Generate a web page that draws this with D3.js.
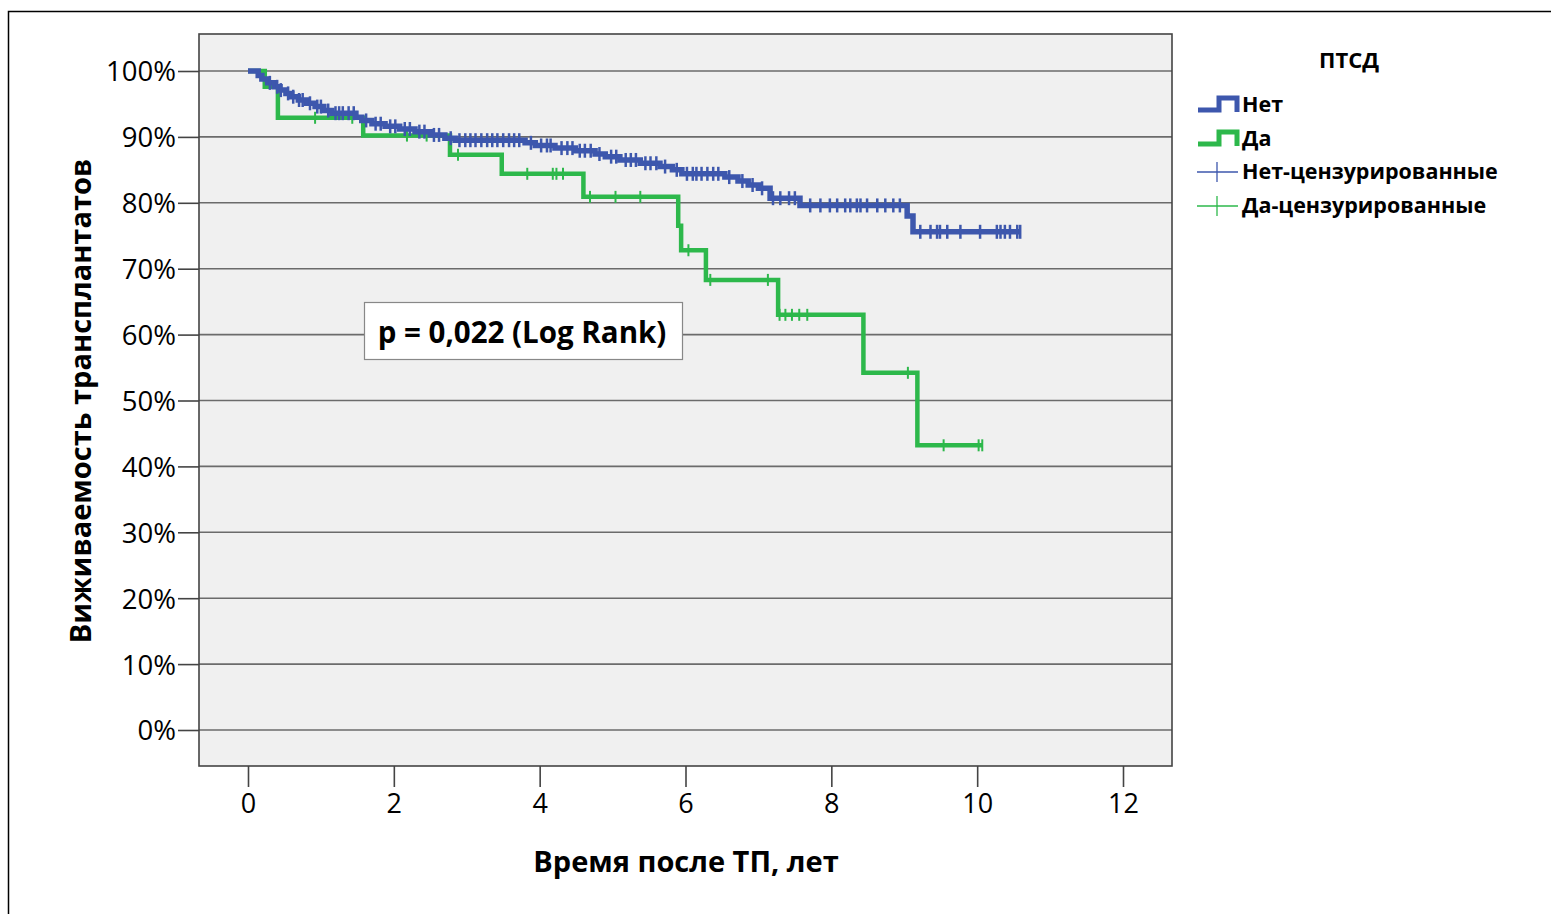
<!DOCTYPE html>
<html>
<head>
<meta charset="utf-8">
<script src="https://cdn.jsdelivr.net/npm/d3@7"></script>
<style>
  html, body { margin: 0; padding: 0; background: #ffffff; }
  svg text { font-family: "Open Sans", "Noto Sans", sans-serif; fill: #000; }
</style>
</head>
<body>
<svg id="chart" width="1551" height="914"></svg>
<script>
// ---------- DATA ----------
const xTicks = [0, 2, 4, 6, 8, 10, 12];
const yTicks = [0, 10, 20, 30, 40, 50, 60, 70, 80, 90, 100];

// "Нет" group: step times (years) and survival (%) after each event
const netTimes    = [0, 0.14, 0.19, 0.27, 0.36, 0.44, 0.52, 0.60, 0.69, 0.80, 0.92, 1.04, 1.15, 1.48, 1.56, 1.70, 1.88, 2.08, 2.29, 2.50, 2.70, 2.84, 3.80, 3.94, 4.21, 4.49, 4.76, 4.90, 5.10, 5.38, 5.65, 5.82, 5.95, 6.54, 6.72, 6.86, 7.00, 7.16, 7.57, 9.04, 9.12, 10.59];
const netSurvival = [100, 99.3, 98.8, 98.2, 97.6, 97.1, 96.6, 96.1, 95.6, 95.1, 94.6, 94.0, 93.6, 93.0, 92.5, 92.0, 91.6, 91.2, 90.8, 90.3, 89.8, 89.5, 89.1, 88.7, 88.3, 87.9, 87.4, 87.0, 86.5, 86.0, 85.5, 85.0, 84.4, 83.9, 83.3, 82.7, 82.2, 80.7, 79.6, 78.0, 75.6, 75.6];
const netCensored = [0.30, 0.40, 0.45, 0.55, 0.62, 0.70, 0.75, 0.85, 0.95, 1.00, 1.10, 1.20, 1.25, 1.30, 1.38, 1.45, 1.62, 1.75, 1.82, 1.95, 2.02, 2.15, 2.22, 2.35, 2.42, 2.55, 2.62, 2.78, 2.90, 2.98, 3.05, 3.12, 3.20, 3.28, 3.35, 3.42, 3.50, 3.58, 3.65, 3.72, 3.88, 4.02, 4.10, 4.15, 4.30, 4.38, 4.45, 4.55, 4.62, 4.70, 4.82, 4.98, 5.05, 5.18, 5.25, 5.32, 5.45, 5.52, 5.60, 5.72, 5.88, 6.02, 6.10, 6.15, 6.22, 6.30, 6.38, 6.45, 6.60, 6.78, 6.92, 7.05, 7.20, 7.30, 7.42, 7.50, 7.71, 7.85, 7.98, 8.08, 8.19, 8.26, 8.35, 8.40, 8.49, 8.63, 8.74, 8.85, 8.94, 9.22, 9.36, 9.45, 9.49, 9.59, 9.77, 10.04, 10.27, 10.32, 10.38, 10.45, 10.55, 10.59];

// "Да" group
const daTimes    = [0, 0.23, 0.41, 1.58, 2.77, 3.48, 4.60, 5.90, 5.94, 6.28, 7.27, 8.44, 9.18, 10.07];
const daSurvival = [100, 97.6, 92.9, 90.2, 87.3, 84.4, 80.9, 76.5, 72.8, 68.3, 63.0, 54.2, 43.2, 43.2];
const daCensored = [0.92, 1.43, 2.18, 2.45, 2.88, 3.83, 4.18, 4.23, 4.32, 4.69, 5.04, 5.38, 6.04, 6.34, 7.13, 7.29, 7.37, 7.46, 7.56, 7.67, 9.05, 9.54, 10.02, 10.07];

const groupNames  = ["Нет", "Да"];
const censorNames = ["Нет-цензурированные", "Да-цензурированные"];
const colors = ["#3D57AD", "#2DB84B"];
const legendTitle = "ПТСД";
const xTitle = "Время после ТП, лет";
const yTitle = "Виживаемость трансплантатов";
const pText = "p = 0,022 (Log Rank)";

// ---------- LAYOUT ----------
const svg = d3.select("#chart");
const plot = { left: 199, right: 1172, top: 34, bottom: 766 };
const x = d3.scaleLinear().domain([0, 12]).range([248, 1123]);
const y = d3.scaleLinear().domain([0, 100]).range([730, 71]);

// outer frame
svg.append("rect").attr("x", 8.5).attr("y", 11.5).attr("width", 1560).attr("height", 920)
  .attr("fill", "#fff").attr("stroke", "#000").attr("stroke-width", 1.5);

// plot background
svg.append("rect").attr("x", plot.left).attr("y", plot.top)
  .attr("width", plot.right - plot.left).attr("height", plot.bottom - plot.top)
  .attr("fill", "#F0F0F0");

// gridlines
svg.append("g").selectAll("line").data(yTicks).join("line")
  .attr("x1", plot.left).attr("x2", plot.right)
  .attr("y1", d => y(d)).attr("y2", d => y(d))
  .attr("stroke", "#6b6b6b").attr("stroke-width", 1.6);

// frame
svg.append("rect").attr("x", plot.left).attr("y", plot.top)
  .attr("width", plot.right - plot.left).attr("height", plot.bottom - plot.top)
  .attr("fill", "none").attr("stroke", "#444").attr("stroke-width", 1.6);

// axes
const yAxis = svg.append("g").attr("transform", `translate(${plot.left},0)`)
  .call(d3.axisLeft(y).tickValues(yTicks).tickFormat(d => d + "%").tickSize(21).tickPadding(2));
yAxis.select(".domain").remove();
yAxis.selectAll(".tick line").attr("stroke", "#444").attr("stroke-width", 1.6);
yAxis.selectAll(".tick text").attr("font-size", 27.5).attr("dy", "0.36em")
  .style("font-family", '"Open Sans", sans-serif').attr("fill", "#000");

const xAxis = svg.append("g").attr("transform", `translate(0,${plot.bottom})`)
  .call(d3.axisBottom(x).tickValues(xTicks).tickSize(21).tickPadding(7));
xAxis.select(".domain").remove();
xAxis.selectAll(".tick line").attr("stroke", "#444").attr("stroke-width", 1.6);
xAxis.selectAll(".tick text").attr("font-size", 27)
  .style("font-family", '"Open Sans", sans-serif').attr("fill", "#000");

// axis titles
svg.append("text").attr("x", 686).attr("y", 872).attr("text-anchor", "middle")
  .attr("font-size", 29).attr("font-weight", "bold").text(xTitle);
svg.append("text").attr("transform", "translate(91,401) rotate(-90)").attr("text-anchor", "middle")
  .attr("font-size", 29).attr("font-weight", "bold").text(yTitle);

// curves
const line = d3.line().x(d => x(d[0])).y(d => y(d[1])).curve(d3.curveStepAfter);
const series = [
  { t: netTimes, s: netSurvival, c: netCensored, color: colors[0], w: 5.5, tick: 7, tw: 2.5 },
  { t: daTimes, s: daSurvival, c: daCensored, color: colors[1], w: 4.5, tick: 6, tw: 2 }
];
function survAt(ser, t) {
  let v = ser.s[0];
  for (let i = 0; i < ser.t.length; i++) if (ser.t[i] <= t) v = ser.s[i];
  return v;
}
// draw green first, then blue on top
[series[1], series[0]].forEach(ser => {
  const pts = ser.t.map((t, i) => [t, ser.s[i]]);
  svg.append("path").attr("d", line(pts)).attr("fill", "none")
    .attr("stroke", ser.color).attr("stroke-width", ser.w).attr("stroke-linejoin", "miter");
  svg.append("g").selectAll("line").data(ser.c).join("line")
    .attr("x1", d => x(d)).attr("x2", d => x(d))
    .attr("y1", d => y(survAt(ser, d)) - ser.tick).attr("y2", d => y(survAt(ser, d)) + ser.tick)
    .attr("stroke", ser.color).attr("stroke-width", ser.tw);
});

// p-value box
svg.append("rect").attr("x", 364.5).attr("y", 302.5).attr("width", 318).attr("height", 57)
  .attr("fill", "#fff").attr("stroke", "#888").attr("stroke-width", 1.2);
svg.append("text").attr("x", 522).attr("y", 343).attr("text-anchor", "middle")
  .attr("font-size", 29.5).attr("font-weight", "bold").text(pText);

// legend
const lg = svg.append("g");
lg.append("text").attr("x", 1349).attr("y", 68).attr("text-anchor", "middle")
  .attr("font-size", 22).attr("font-weight", "bold").text(legendTitle);
groupNames.forEach((name, i) => {
  const yb = 110 + i * 34;
  lg.append("path").attr("d", `M1198,${yb} H1219 V${yb - 12} H1237 V${yb + 2}`)
    .attr("fill", "none").attr("stroke", colors[i]).attr("stroke-width", 5);
  lg.append("text").attr("x", 1242).attr("y", yb + 2).attr("font-size", 21.5)
    .attr("font-weight", "bold").text(name);
});
censorNames.forEach((name, i) => {
  const yc = 172 + i * 34;
  lg.append("line").attr("x1", 1197).attr("x2", 1238).attr("y1", yc).attr("y2", yc)
    .attr("stroke", colors[i]).attr("stroke-width", 1.3);
  lg.append("line").attr("x1", 1217).attr("x2", 1217).attr("y1", yc - 10).attr("y2", yc + 10)
    .attr("stroke", colors[i]).attr("stroke-width", 1.3);
  lg.append("text").attr("x", 1242).attr("y", yc + 7).attr("font-size", 21.5)
    .attr("font-weight", "bold").text(name);
});
</script>
</body>
</html>
